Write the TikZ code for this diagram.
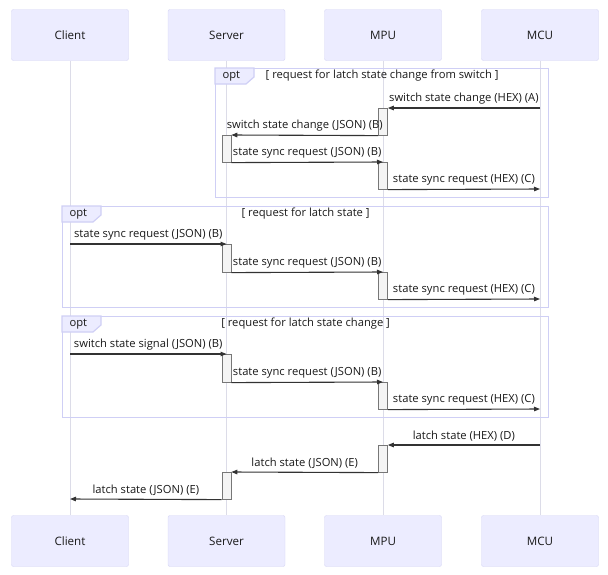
\documentclass[tikz,border=0pt]{standalone}
\usepackage{fontspec}
\setmainfont{Open Sans}
\usetikzlibrary{arrows.meta}

\definecolor{actorfill}{HTML}{ECECFF}
\definecolor{actorline}{HTML}{D4D4F4}
\definecolor{lifeline}{HTML}{DCDCE8}
\definecolor{optline}{HTML}{CFCFF5}
\definecolor{actfill}{HTML}{F4F4F4}
\definecolor{actline}{HTML}{777777}
\definecolor{msgline}{HTML}{333333}

\tikzset{
    actor/.style={draw=actorline, fill=actorfill, rounded corners=2pt, minimum width=117pt, minimum height=51pt, font=\fontsize{11.6}{13}\selectfont, text=black!90},
    lifeline/.style={draw=lifeline, line width=0.8pt},
    act/.style={draw=actline, fill=actfill, minimum width=9pt, inner sep=0pt, line width=0.6pt},
    msg/.style={draw=msgline, line width=1.1pt, -{Triangle[length=6pt,width=4.5pt]}},
    lbl/.style={above=0pt, font=\fontsize{11.2}{13}\selectfont, text=black!90},
    optframe/.style={draw=optline, line width=1.2pt, inner sep=0pt},
    opttab/.style={draw=optline, fill=actorfill, line width=1.2pt},
    opttext/.style={font=\fontsize{11.2}{13}\selectfont, text=black!90}
}

\begin{document}
\begin{tikzpicture}[x=1pt, y=-1pt]
    \useasboundingbox (0,0) rectangle (608,574);

    % Actors
    \node[actor] (client_top) at (70,35) {Client};
    \node[actor] (server_top) at (226.5,35) {Server};
    \node[actor] (mpu_top) at (383,35) {MPU};
    \node[actor] (mcu_top) at (540,35) {MCU};
    \node[actor] (client_bot) at (70,541) {Client};
    \node[actor] (server_bot) at (226.5,541) {Server};
    \node[actor] (mpu_bot) at (383,541) {MPU};
    \node[actor] (mcu_bot) at (540,541) {MCU};

    % Lifelines
    \draw[lifeline] (client_top) -- (client_bot);
    \draw[lifeline] (server_top) -- (server_bot);
    \draw[lifeline] (mpu_top) -- (mpu_bot);
    \draw[lifeline] (mcu_top) -- (mcu_bot);

    % Opt frames
    \node[optframe, minimum width=333pt, minimum height=129pt, anchor=north west] (opt_switch) at (215,68) {};
    \node[optframe, minimum width=486pt, minimum height=101pt, anchor=north west] (opt_state) at (62,206) {};
    \node[optframe, minimum width=486pt, minimum height=101pt, anchor=north west] (opt_change) at (62,316) {};
    \foreach \f in {opt_switch, opt_state, opt_change} {
        \draw[opttab] (\f.north west) -- ++(39,0) -- ++(0,9) -- ++(-8,7) -- ++(-31,0) -- cycle;
        \node[opttext, anchor=west] (\f_tag) at ([xshift=4pt, yshift=-8pt]\f.north west) {opt};
    }
    \node[opttext] (opt_switch_title) at ([yshift=-7.5pt]opt_switch.north) {[ request for latch state change from switch ]};
    \node[opttext] (opt_state_title) at ([yshift=-7.5pt]opt_state.north) {[ request for latch state ]};
    \node[opttext] (opt_change_title) at ([yshift=-7.5pt]opt_change.north) {[ request for latch state change ]};

    % Activations
    \node[act, minimum height=27pt, anchor=north] (mpu_act1) at (383,108) {};
    \node[act, minimum height=27pt, anchor=north] (server_act1) at (226.5,135) {};
    \node[act, minimum height=27pt, anchor=north] (mpu_act2) at (383,162) {};
    \node[act, minimum height=28pt, anchor=north] (server_act2) at (226.5,244) {};
    \node[act, minimum height=27pt, anchor=north] (mpu_act3) at (383,272) {};
    \node[act, minimum height=28pt, anchor=north] (server_act3) at (226.5,354) {};
    \node[act, minimum height=27pt, anchor=north] (mpu_act4) at (383,382) {};
    \node[act, minimum height=27pt, anchor=north] (mpu_act5) at (383,445) {};
    \node[act, minimum height=27pt, anchor=north] (server_act4) at (226.5,472) {};

    % Free ends on the lifelines
    \coordinate (mcu_a) at (540,108);
    \coordinate (mcu_c1) at (540,189);
    \coordinate (client_b1) at (70,244);
    \coordinate (mcu_c2) at (540,299);
    \coordinate (client_b2) at (70,354);
    \coordinate (mcu_c3) at (540,409);
    \coordinate (mcu_d) at (540,445);
    \coordinate (client_e) at (70,499);

    % Arrows
    \draw[msg] (mcu_a) -- (mpu_act1.north east) node[lbl, midway] {switch state change (HEX) (A)};
    \draw[msg] (mpu_act1.south west) -- (server_act1.north east) node[lbl, midway] {switch state change (JSON) (B)};
    \draw[msg] (server_act1.south east) -- (mpu_act2.north) node[lbl, midway] {state sync request (JSON) (B)};
    \draw[msg] (mpu_act2.south east) -- (mcu_c1) node[lbl, midway] {state sync request (HEX) (C)};

    \draw[msg] (client_b1) -- (server_act2.north) node[lbl, midway] {state sync request (JSON) (B)};
    \draw[msg] (server_act2.south east) -- (mpu_act3.north) node[lbl, midway] {state sync request (JSON) (B)};
    \draw[msg] (mpu_act3.south east) -- (mcu_c2) node[lbl, midway] {state sync request (HEX) (C)};

    \draw[msg] (client_b2) -- (server_act3.north) node[lbl, midway] {switch state signal (JSON) (B)};
    \draw[msg] (server_act3.south east) -- (mpu_act4.north) node[lbl, midway] {state sync request (JSON) (B)};
    \draw[msg] (mpu_act4.south east) -- (mcu_c3) node[lbl, midway] {state sync request (HEX) (C)};

    \draw[msg] (mcu_d) -- (mpu_act5.north east) node[lbl, midway] {latch state (HEX) (D)};
    \draw[msg] (mpu_act5.south west) -- (server_act4.north east) node[lbl, midway] {latch state (JSON) (E)};
    \draw[msg] (server_act4.south west) -- (client_e) node[lbl, midway] {latch state (JSON) (E)};
\end{tikzpicture}
\end{document}
